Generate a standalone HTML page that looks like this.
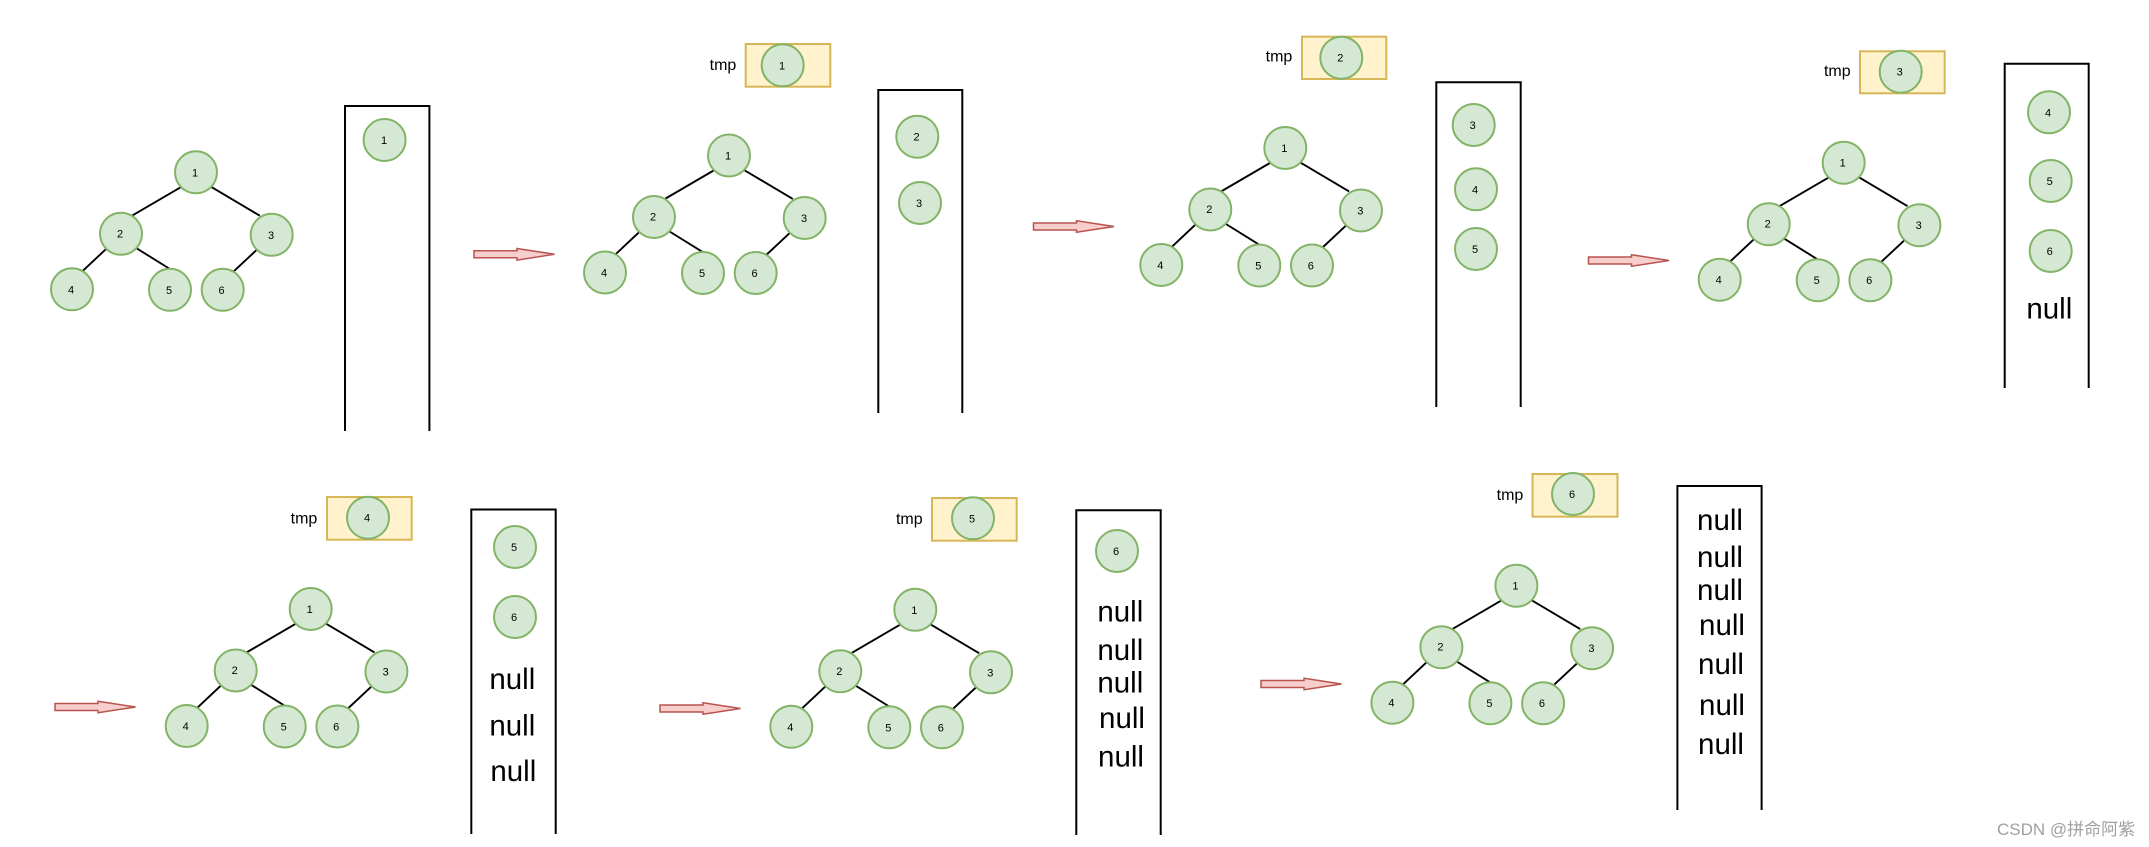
<!DOCTYPE html>
<html><head><meta charset="utf-8"><style>
html,body{margin:0;padding:0;background:#fff}
svg{display:block;font-family:"Liberation Sans","Noto Sans CJK SC",sans-serif}
circle{fill:#d5e8d4;stroke:#82b366;stroke-width:2}
.l{stroke:#000;stroke-width:1.9;fill:none}
.s{stroke:#000;stroke-width:2;fill:none}
.b{fill:#fff2cc;stroke:#d6b656;stroke-width:2}
.a{fill:#f8cecc;stroke:#b85450;stroke-width:1.5}
.n{font-size:11px;text-anchor:middle;fill:#000}
.t{font-size:16px;text-anchor:middle;fill:#000}
.u{font-size:29.5px;text-anchor:middle;fill:#000}
.w{font-size:17px;fill:#a0a0a0}
</style></head><body>
<svg width="2149" height="847" viewBox="0 0 2149 847" xmlns="http://www.w3.org/2000/svg">
<rect width="2149" height="847" fill="#fff"/>
<defs>
<g id="ln"><path class="l" d="M-15.4 15L-65.1 44M14.9 14.4L63.8 43.4M-89.2 76L-114.1 99.4M-59.4 76L-26.1 96.7M61.6 76.7L36.7 100"/></g>
<g id="ar"><path class="a" d="M0 -3.5H43V-5.8L80.5 0L43 5.8V3.5H0Z"/></g>
<g id="o"><circle cx="0" cy="0" r="21"/><circle cx="-75" cy="61.5" r="21"/><circle cx="75.7" cy="62.5" r="21"/><circle cx="-124" cy="117" r="21"/><circle cx="-26" cy="117.5" r="21"/><circle cx="26.7" cy="117.5" r="21"/></g>
</defs>

<!-- Tree 1 -->
<g transform="translate(196,172.3)"><use href="#ln"/><use href="#o"/>
<text class="n" x="-1" y="4">1</text><text class="n" x="-76" y="65">2</text><text class="n" x="75" y="66.5">3</text><text class="n" x="-125" y="121">4</text><text class="n" x="-27" y="121.5">5</text><text class="n" x="25.5" y="121.5">6</text></g>
<path class="s" d="M345 431V106H429.4V431"/>
<circle cx="384.6" cy="140" r="21"/><text class="n" x="384" y="144">1</text>
<use href="#ar" transform="translate(474,254.3)"/>

<!-- Tree 2 -->
<text class="t" x="723" y="70">tmp</text>
<rect class="b" x="745.7" y="44" width="84.6" height="42.7"/>
<circle cx="782.7" cy="65.3" r="21"/><text class="n" x="782" y="69.3">1</text>
<g transform="translate(729,155.5)"><use href="#ln"/><use href="#o"/>
<text class="n" x="-1" y="4">1</text><text class="n" x="-76" y="65">2</text><text class="n" x="75" y="66.5">3</text><text class="n" x="-125" y="121">4</text><text class="n" x="-27" y="121.5">5</text><text class="n" x="25.5" y="121.5">6</text></g>
<path class="s" d="M878.3 413V90H962.3V413"/>
<circle cx="917.3" cy="136.7" r="21"/><text class="n" x="916.5" y="140.7">2</text>
<circle cx="920" cy="203" r="21"/><text class="n" x="919" y="207">3</text>
<use href="#ar" transform="translate(1033.5,226.5)"/>

<!-- Tree 3 -->
<text class="t" x="1279" y="61.7">tmp</text>
<rect class="b" x="1302" y="36.7" width="84.3" height="42.3"/>
<circle cx="1341.3" cy="57.7" r="21"/><text class="n" x="1340.3" y="61.7">2</text>
<g transform="translate(1285.3,148)"><use href="#ln"/><use href="#o"/>
<text class="n" x="-1" y="4">1</text><text class="n" x="-76" y="65">2</text><text class="n" x="75" y="66.5">3</text><text class="n" x="-125" y="121">4</text><text class="n" x="-27" y="121.5">5</text><text class="n" x="25.5" y="121.5">6</text></g>
<path class="s" d="M1436.3 407V82.3H1520.7V407"/>
<circle cx="1473.7" cy="125" r="21"/><text class="n" x="1472.7" y="129">3</text>
<circle cx="1476" cy="189.3" r="21"/><text class="n" x="1475" y="193.3">4</text>
<circle cx="1476" cy="249" r="21"/><text class="n" x="1475" y="253">5</text>
<use href="#ar" transform="translate(1588.5,260.5)"/>

<!-- Tree 4 -->
<text class="t" x="1837.3" y="76">tmp</text>
<rect class="b" x="1860" y="51.3" width="84.7" height="42"/>
<circle cx="1900.7" cy="71.7" r="21"/><text class="n" x="1899.7" y="75.7">3</text>
<g transform="translate(1843.7,162.7)"><use href="#ln"/><use href="#o"/>
<text class="n" x="-1" y="4">1</text><text class="n" x="-76" y="65">2</text><text class="n" x="75" y="66.5">3</text><text class="n" x="-125" y="121">4</text><text class="n" x="-27" y="121.5">5</text><text class="n" x="25.5" y="121.5">6</text></g>
<path class="s" d="M2004.7 388V63.7H2088.7V388"/>
<circle cx="2049" cy="112.3" r="21"/><text class="n" x="2048" y="116.3">4</text>
<circle cx="2050.7" cy="181" r="21"/><text class="n" x="2049.7" y="185">5</text>
<circle cx="2050.7" cy="251" r="21"/><text class="n" x="2049.7" y="255">6</text>
<text class="u" x="2049.3" y="318.3">null</text>

<!-- Tree 5 -->
<use href="#ar" transform="translate(55,707)"/>
<text class="t" x="304" y="523.3">tmp</text>
<rect class="b" x="327" y="497" width="84.7" height="42.7"/>
<circle cx="368" cy="517.7" r="21"/><text class="n" x="367" y="521.7">4</text>
<g transform="translate(310.7,609)"><use href="#ln"/><use href="#o"/>
<text class="n" x="-1" y="4">1</text><text class="n" x="-76" y="65">2</text><text class="n" x="75" y="66.5">3</text><text class="n" x="-125" y="121">4</text><text class="n" x="-27" y="121.5">5</text><text class="n" x="25.5" y="121.5">6</text></g>
<path class="s" d="M471.3 834V509.5H555.7V834"/>
<circle cx="515" cy="547" r="21"/><text class="n" x="514" y="551">5</text>
<circle cx="515" cy="617" r="21"/><text class="n" x="514" y="621">6</text>
<text class="u" x="512.3" y="689">null</text>
<text class="u" x="512.3" y="735.7">null</text>
<text class="u" x="513.3" y="781">null</text>

<!-- Tree 6 -->
<use href="#ar" transform="translate(660,708.5)"/>
<text class="t" x="909.3" y="524">tmp</text>
<rect class="b" x="932" y="498" width="84.7" height="42.7"/>
<circle cx="973" cy="518.3" r="21"/><text class="n" x="972" y="522.3">5</text>
<g transform="translate(915.3,609.8)"><use href="#ln"/><use href="#o"/>
<text class="n" x="-1" y="4">1</text><text class="n" x="-76" y="65">2</text><text class="n" x="75" y="66.5">3</text><text class="n" x="-125" y="121">4</text><text class="n" x="-27" y="121.5">5</text><text class="n" x="25.5" y="121.5">6</text></g>
<path class="s" d="M1076.3 835V510.3H1160.7V835"/>
<circle cx="1117" cy="551" r="21"/><text class="n" x="1116" y="555">6</text>
<text class="u" x="1120.3" y="621.7">null</text>
<text class="u" x="1120.3" y="660">null</text>
<text class="u" x="1120.3" y="692.7">null</text>
<text class="u" x="1122" y="728">null</text>
<text class="u" x="1121" y="766.7">null</text>

<!-- Tree 7 -->
<use href="#ar" transform="translate(1261,684)"/>
<text class="t" x="1510" y="500">tmp</text>
<rect class="b" x="1532.5" y="474" width="85" height="42.7"/>
<circle cx="1573" cy="494" r="21"/><text class="n" x="1572" y="498">6</text>
<g transform="translate(1516.4,585.7)"><use href="#ln"/><use href="#o"/>
<text class="n" x="-1" y="4">1</text><text class="n" x="-76" y="65">2</text><text class="n" x="75" y="66.5">3</text><text class="n" x="-125" y="121">4</text><text class="n" x="-27" y="121.5">5</text><text class="n" x="25.5" y="121.5">6</text></g>
<path class="s" d="M1677.4 810V486H1761.6V810"/>
<text class="u" x="1720" y="530">null</text>
<text class="u" x="1720" y="567">null</text>
<text class="u" x="1720" y="600">null</text>
<text class="u" x="1722" y="635">null</text>
<text class="u" x="1721" y="674">null</text>
<text class="u" x="1722" y="715">null</text>
<text class="u" x="1721" y="754">null</text>

<text class="w" x="1997" y="835">CSDN @拼命阿紫</text>
</svg>
</body></html>
